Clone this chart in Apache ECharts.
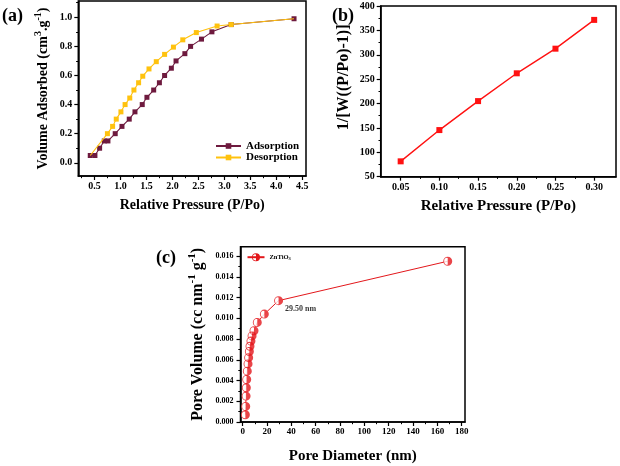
<!DOCTYPE html>
<html><head><meta charset="utf-8">
<script src="https://cdn.jsdelivr.net/npm/echarts@6/dist/echarts.min.js"></script>
<style>html,body{margin:0;padding:0;background:#fff}#c{width:620px;height:466px}</style>
</head><body><div id="c"></div>
<script>
// ---------- Panel (a): N2 adsorption / desorption isotherm ----------
const adsX = [0.42,0.51,0.60,0.69,0.76,0.90,1.03,1.17,1.28,1.42,1.51,1.64,1.75,1.85,1.98,2.07,2.24,2.35,2.56,2.76,3.13,4.34];
const adsY = [0.05,0.05,0.10,0.15,0.15,0.20,0.25,0.30,0.35,0.40,0.45,0.50,0.55,0.60,0.65,0.70,0.75,0.80,0.85,0.90,0.95,0.99];
const desX = [0.42,0.75,0.85,0.92,1.01,1.09,1.18,1.26,1.35,1.43,1.55,1.69,1.85,2.02,2.20,2.46,2.86,3.13,4.34];
const desY = [0.05,0.20,0.25,0.30,0.35,0.40,0.445,0.50,0.55,0.595,0.645,0.695,0.745,0.795,0.845,0.895,0.94,0.95,0.99];
const aXTicks = [0.5,1.0,1.5,2.0,2.5,3.0,3.5,4.0,4.5];
const aXMinor = [0.25,0.75,1.25,1.75,2.25,2.75,3.25,3.75,4.25];
const aYTicks = [0.0,0.2,0.4,0.6,0.8,1.0];
const aYMinor = [0.1,0.3,0.5,0.7,0.9,1.1];

// ---------- Panel (b): BET plot ----------
const betX = [0.05,0.10,0.15,0.20,0.25,0.30];
const betY = [81.5,145.6,205,262,312.5,371.5];
const bXTicks = [0.05,0.10,0.15,0.20,0.25,0.30];
const bXMinor = [0.075,0.125,0.175,0.225,0.275];
const bYTicks = [50,100,150,200,250,300,350,400];
const bYMinor = [75,125,175,225,275,325,375];

// ---------- Panel (c): pore size distribution ----------
const poreD = [2.2,2.5,2.8,3.0,3.3,3.8,4.4,4.9,5.5,6.0,6.8,7.7,9.3,12.0,17.8,29.5,168.5];
const poreV = [0.0007,0.0015,0.0025,0.0033,0.0041,0.0049,0.0056,0.0062,0.0068,0.0073,0.0078,0.0083,0.0088,0.0096,0.0104,0.0117,0.0155];
const annotD = 29.5;
const annotText = '29.50 nm';
const cXTicks = [0,20,40,60,80,100,120,140,160,180];
const cXMinor = [10,30,50,70,90,110,130,150,170];
const cYTicks = [0,0.002,0.004,0.006,0.008,0.010,0.012,0.014,0.016];
const cYMinor = [0.001,0.003,0.005,0.007,0.009,0.011,0.013,0.015];

const FONT = '"Liberation Serif","Times New Roman",serif';
const MAROON = '#6E1A3E', YELLOW = '#FFC20E', RED_B = '#FF1111', RED_C = '#E3171B';
const HALF = 'path://M10,0 A10,10 0 0,1 10,20 Z M10,0 A10,10 0 0,0 10,20 L10,18 A8,8 0 0,1 10,2 Z';

function mainAxis(dim, grid, min, max, ticks, dec, fs, margin, name, gap, nameStyle) {
  return {
    type: 'value', gridIndex: grid, min: min, max: max,
    position: dim === 'x' ? 'bottom' : 'left',
    name: name, nameLocation: 'middle', nameGap: gap,
    nameTextStyle: nameStyle,
    axisLine: { show: true, onZero: false, lineStyle: { color: '#000', width: 1.5 } },
    axisTick: { show: true, inside: false, length: 4, customValues: ticks, lineStyle: { color: '#000', width: 1.2 } },
    axisLabel: { show: true, customValues: ticks, margin: margin, color: '#000',
      fontFamily: FONT, fontWeight: 'bold', fontSize: fs,
      formatter: v => Number(v).toFixed(dec) },
    splitLine: { show: false }
  };
}
function minorAxis(dim, grid, min, max, ticks) {
  return {
    type: 'value', gridIndex: grid, min: min, max: max,
    position: dim === 'x' ? 'bottom' : 'left',
    axisLine: { show: false, onZero: false },
    axisTick: { show: true, inside: false, length: 2.2, customValues: ticks, lineStyle: { color: '#000', width: 1 } },
    axisLabel: { show: false },
    splitLine: { show: false }
  };
}
function titleStyle(size, lh) {
  return {
    fontFamily: FONT, fontWeight: 'bold', fontSize: size, color: '#000', lineHeight: lh,
    rich: { sup: { fontFamily: FONT, fontWeight: 'bold', fontSize: Math.round(size * 0.68), lineHeight: Math.round(size * 0.7), verticalAlign: 'top', color: '#000' } }
  };
}

const chart = echarts.init(document.getElementById('c'), null, { renderer: 'canvas' });
const option = {
  animation: false,
  backgroundColor: '#fff',
  grid: [
    { left: 78.3, right: 314, top: 1, bottom: 290, show: true, borderColor: '#000', borderWidth: 1.5, containLabel: false },
    { left: 380.7, right: 4, top: 6, bottom: 289.3, show: true, borderColor: '#000', borderWidth: 1.5, containLabel: false },
    { left: 240.5, right: 155, top: 246.7, bottom: 42.5, show: true, borderColor: '#000', borderWidth: 1.5, containLabel: false }
  ],
  xAxis: [
    mainAxis('x', 0, 0.19, 4.57, aXTicks, 1, 10, 5, 'Relative Pressure (P/Po)', 21, titleStyle(14, 16)),
    minorAxis('x', 0, 0.19, 4.57, aXMinor),
    mainAxis('x', 1, 0.0242, 0.3282, bXTicks, 2, 10, 6, 'Relative Pressure (P/Po)', 21, titleStyle(15, 16)),
    minorAxis('x', 1, 0.0242, 0.3282, bXMinor),
    mainAxis('x', 2, -1.8, 182.7, cXTicks, 0, 9, 5, 'Pore Diameter (nm)', 26, titleStyle(15, 17)),
    minorAxis('x', 2, -1.8, 182.7, cXMinor)
  ],
  yAxis: [
    mainAxis('y', 0, -0.091, 1.112, aYTicks, 1, 10, 6, 'Volume Adsorbed (cm{sup|3}.g{sup|-1})', 25, titleStyle(14, 20)),
    minorAxis('y', 0, -0.091, 1.112, aYMinor),
    mainAxis('y', 1, 50, 400, bYTicks, 0, 10, 6, '1/[W((P/Po)-1)]', 27, Object.assign(titleStyle(16, 20), { padding: [0, 0, 0, 28] })),
    minorAxis('y', 1, 50, 400, bYMinor),
    mainAxis('y', 2, 0, 0.0169, cYTicks, 3, 8, 7, 'Pore Volume (cc nm{sup|-1} g{sup|-1})', 32, titleStyle(16, 22)),
    minorAxis('y', 2, 0, 0.0169, cYMinor)
  ],
  legend: [
    {
      data: ['Adsorption', 'Desorption'], orient: 'vertical', left: 215, top: 140.5, padding: 0,
      itemWidth: 25, itemHeight: 7, itemGap: 0.5,
      textStyle: { fontFamily: FONT, fontWeight: 'bold', fontSize: 11, color: '#000' }
    },
    {
      data: ['ZnTiO3'], orient: 'vertical', left: 246.5, top: 252.7, padding: 0,
      itemWidth: 17, itemHeight: 10,
      formatter: () => 'ZnTiO{sub|3}',
      textStyle: { fontFamily: FONT, fontWeight: 'bold', fontSize: 6.5, color: '#000', lineHeight: 9,
        rich: { sub: { fontFamily: FONT, fontWeight: 'bold', fontSize: 4.5, lineHeight: 5, verticalAlign: 'bottom', color: '#000' } } }
    }
  ],
  graphic: [
    { type: 'text', left: 2, top: 7, style: { text: '(a)', font: 'bold 18px ' + FONT, fill: '#000' } },
    { type: 'text', left: 332, top: 7, style: { text: '(b)', font: 'bold 18px ' + FONT, fill: '#000' } },
    { type: 'text', left: 156, top: 249, style: { text: '(c)', font: 'bold 18px ' + FONT, fill: '#000' } }
  ],
  series: [
    {
      name: 'Adsorption', type: 'line', xAxisIndex: 0, yAxisIndex: 0, z: 2,
      data: adsX.map((x, i) => [x, adsY[i]]),
      symbol: 'rect', symbolSize: 5,
      itemStyle: { color: MAROON }, lineStyle: { color: MAROON, width: 1.1 }
    },
    {
      name: 'Desorption', type: 'line', xAxisIndex: 0, yAxisIndex: 0, z: 3,
      data: desX.map((x, i) => (i === 0 || i === desX.length - 1) ? { value: [x, desY[i]], symbol: 'none' } : [x, desY[i]]),
      symbol: 'rect', symbolSize: 5,
      itemStyle: { color: YELLOW }, lineStyle: { color: YELLOW, width: 1.1 }
    },
    {
      name: 'BET', type: 'line', xAxisIndex: 2, yAxisIndex: 2,
      data: betX.map((x, i) => [x, betY[i]]),
      symbol: 'rect', symbolSize: 6,
      itemStyle: { color: RED_B }, lineStyle: { color: RED_B, width: 1.4 }
    },
    {
      name: 'ZnTiO3', type: 'line', xAxisIndex: 4, yAxisIndex: 4, z: 2,
      data: poreD.map((d, i) => [d, poreV[i]]),
      symbol: HALF, showSymbol: false, symbolSize: 9,
      itemStyle: { color: RED_C }, lineStyle: { color: RED_C, width: 1 }
    },
    {
      name: 'ZnTiO3-fill', type: 'scatter', xAxisIndex: 4, yAxisIndex: 4, z: 3, silent: true,
      data: poreD.map((d, i) => [d, poreV[i]]),
      symbol: 'circle', symbolSize: 8.5,
      itemStyle: { color: '#fff' }
    },
    {
      name: 'ZnTiO3-marker', type: 'scatter', xAxisIndex: 4, yAxisIndex: 4, z: 4,
      data: poreD.map((d, i) => [d, poreV[i]]),
      symbol: HALF, symbolSize: 9,
      itemStyle: { color: RED_C },
      label: {
        show: true, position: 'right', distance: 2, offset: [0, 8],
        formatter: p => p.value[0] === annotD ? annotText : '',
        fontFamily: FONT, fontWeight: 'bold', fontSize: 8, color: '#000'
      }
    }
  ]
};
chart.setOption(option);
</script>
</body></html>
